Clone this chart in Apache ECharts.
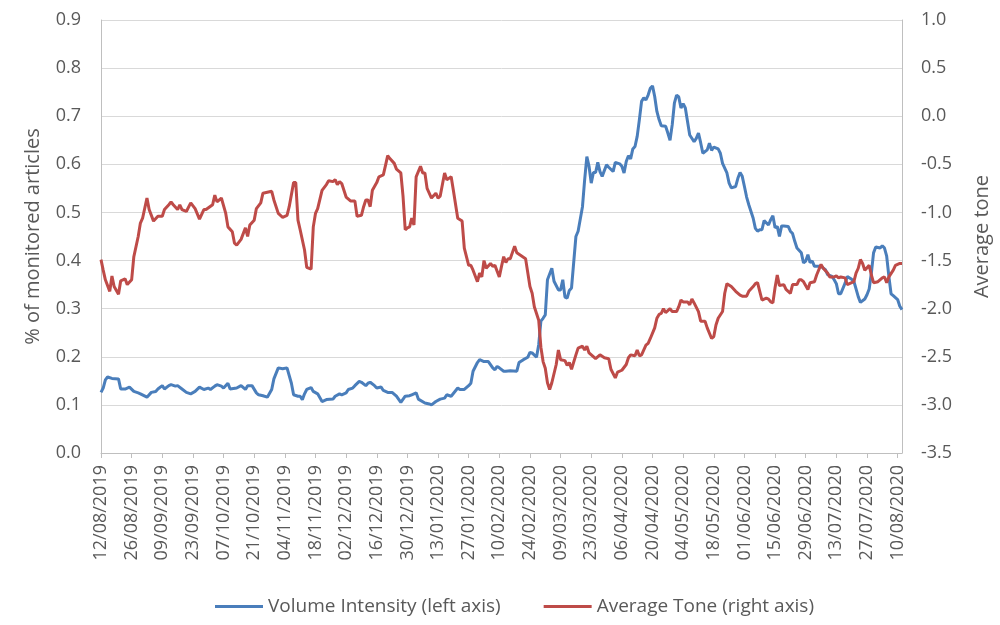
<!DOCTYPE html>
<html>
<head>
<meta charset="utf-8">
<script src="https://cdn.jsdelivr.net/npm/echarts@6/dist/echarts.min.js"></script>
<style>
  html, body { margin: 0; padding: 0; background: #fff; }
  #chart { width: 1000px; height: 625px; }
</style>
</head>
<body>
<div id="chart"></div>
<script>
// day index counted from 12/08/2019, one category per day
var startDate = Date.UTC(2019, 7, 12);
var dayCount = 367;

// Volume Intensity (left axis)
var volDays = [0,1,2,3,5,8,9,11,13,15,17,18,21,23,25,26,28,29,31,32,34,35,37,39,41,43,45,47,49,50,52,53,55,56,58,59,62,
  64,66,67,69,71,72,74,76,78,79,81,83,85,87,88,90,91,92,93,94,96,97,99,101,103,106,107,109,110,112,113,115,116,118,119,121,122,
  123,125,126,128,129,131,133,135,137,139,141,142,144,145,148,150,151,153,155,157,158,160,163,164,166,168,169,170,172,173,175,177,179,180,181,182,184,185,
  187,190,191,193,195,196,197,199,200,201,202,203,204,206,207,209,210,211,212,213,214,215,217,218,220,221,222,223,224,225,226,227,228,229,231,232,234,235,237,238,239,240,241,242,243,244,245,246,247,248,
  249,250,251,252,253,254,255,256,258,259,260,261,262,263,264,265,266,267,269,271,272,273,274,275,277,278,279,280,282,283,284,286,287,288,290,291,292,293,294,295,296,298,299,300,301,302,303,305,306,307,308,309,
  310,311,312,314,315,316,317,318,320,321,322,323,324,325,326,327,329,331,332,334,335,336,337,338,340,341,343,344,345,346,347,349,350,351,352,353,354,356,357,358,359,360,361,362,364,365,366];
var volValues = [0.126,0.135,0.152,0.158,0.155,0.154,0.133,0.133,0.137,0.128,0.125,0.123,0.116,0.126,0.128,0.133,0.140,0.133,0.140,0.142,0.139,0.140,0.133,0.126,0.123,0.128,0.137,0.132,0.135,0.132,0.139,0.142,0.139,0.135,0.145,0.133,0.135,
  0.140,0.132,0.140,0.140,0.125,0.121,0.119,0.116,0.132,0.154,0.177,0.175,0.177,0.145,0.121,0.118,0.118,0.111,0.123,0.132,0.136,0.128,0.123,0.107,0.111,0.112,0.118,0.123,0.121,0.125,0.132,0.135,0.140,0.149,0.147,0.140,0.145,
  0.147,0.140,0.135,0.137,0.130,0.126,0.126,0.118,0.105,0.118,0.119,0.121,0.125,0.112,0.104,0.102,0.100,0.107,0.112,0.114,0.121,0.118,0.135,0.132,0.132,0.140,0.145,0.170,0.188,0.194,0.190,0.190,0.177,0.173,0.180,0.177,0.170,0.170,
  0.171,0.170,0.188,0.194,0.199,0.209,0.208,0.199,0.225,0.274,0.280,0.287,0.360,0.384,0.357,0.339,0.339,0.360,0.324,0.322,0.338,0.343,0.450,0.461,0.512,0.568,0.616,0.596,0.561,0.583,0.583,0.604,0.585,0.575,0.599,0.594,0.585,0.604,0.601,0.596,0.582,0.606,0.618,0.611,0.632,0.637,0.658,0.693,0.731,0.738,
  0.734,0.744,0.758,0.763,0.741,0.710,0.693,0.680,0.679,0.665,0.650,0.682,0.727,0.744,0.740,0.717,0.726,0.717,0.661,0.647,0.654,0.665,0.645,0.623,0.630,0.644,0.629,0.636,0.632,0.623,0.602,0.582,0.561,0.551,0.554,0.571,0.583,0.575,0.554,0.532,0.516,0.488,0.467,0.461,0.464,0.464,0.483,0.474,0.485,0.493,0.468,0.471,
  0.450,0.472,0.472,0.471,0.461,0.456,0.440,0.426,0.416,0.395,0.399,0.412,0.396,0.399,0.388,0.388,0.388,0.381,0.371,0.367,0.360,0.352,0.331,0.331,0.353,0.367,0.361,0.357,0.341,0.325,0.313,0.320,0.329,0.341,0.374,0.416,0.428,0.426,0.431,0.426,0.409,0.367,0.331,0.327,0.319,0.305,0.298];

// Average Tone (right axis)
var toneDays = [0,1,2,4,5,6,8,9,11,12,14,15,17,18,19,21,22,24,26,28,29,31,32,33,35,36,37,39,41,43,45,47,48,51,52,53,55,57,58,60,61,62,
  64,66,67,68,70,71,73,74,76,78,79,81,83,85,86,88,89,90,91,93,94,96,97,98,99,101,103,104,106,107,108,109,110,112,114,116,117,119,120,121,122,
  123,124,126,127,129,130,131,132,134,135,137,138,139,140,141,142,143,144,146,147,148,149,151,153,154,155,157,158,160,161,163,165,166,168,169,170,172,173,174,175,176,178,179,180,
  182,183,184,185,186,187,189,190,192,194,196,197,198,200,201,202,203,204,205,206,208,209,210,212,213,214,215,217,218,220,221,222,223,226,228,230,232,233,235,236,238,240,241,242,244,245,246,
  247,249,250,251,253,254,255,256,257,258,260,261,263,264,265,266,268,269,270,271,273,274,276,277,279,280,281,282,284,285,286,288,290,292,293,295,296,298,299,300,301,302,304,
  305,306,307,308,309,310,312,313,315,316,318,319,320,321,323,324,326,327,329,330,332,333,335,336,337,338,340,341,343,344,345,346,347,348,349,351,352,353,355,357,358,359,360,362,363,365,366];
var toneValues = [-1.49,-1.60,-1.70,-1.82,-1.66,-1.77,-1.85,-1.71,-1.69,-1.75,-1.70,-1.46,-1.25,-1.11,-1.06,-0.85,-0.97,-1.09,-1.04,-1.04,-0.97,-0.92,-0.89,-0.92,-0.97,-0.92,-0.97,-0.99,-0.90,-0.96,-1.07,-0.97,-0.97,-0.92,-0.82,-0.89,-0.85,-1.01,-1.15,-1.20,-1.32,-1.34,
  -1.28,-1.16,-1.25,-1.13,-1.08,-0.96,-0.90,-0.80,-0.79,-0.78,-0.87,-1.01,-1.05,-1.03,-0.94,-0.69,-0.69,-1.08,-1.18,-1.39,-1.57,-1.59,-1.15,-1.01,-0.96,-0.77,-0.71,-0.67,-0.68,-0.66,-0.71,-0.68,-0.70,-0.84,-0.88,-0.88,-1.04,-1.03,-0.94,-0.87,-0.87,
  -0.94,-0.77,-0.69,-0.63,-0.61,-0.51,-0.41,-0.44,-0.49,-0.55,-0.59,-0.83,-1.18,-1.16,-1.15,-1.06,-1.13,-0.63,-0.52,-0.59,-0.59,-0.75,-0.85,-0.80,-0.85,-0.83,-0.59,-0.66,-0.63,-0.77,-1.06,-1.09,-1.37,-1.55,-1.55,-1.60,-1.72,-1.63,-1.67,-1.50,-1.58,-1.53,-1.56,-1.55,
  -1.67,-1.56,-1.46,-1.52,-1.48,-1.48,-1.35,-1.42,-1.45,-1.48,-1.77,-1.84,-1.98,-2.12,-2.40,-2.55,-2.62,-2.77,-2.84,-2.77,-2.58,-2.43,-2.53,-2.54,-2.59,-2.56,-2.63,-2.48,-2.41,-2.39,-2.43,-2.39,-2.46,-2.52,-2.48,-2.51,-2.52,-2.63,-2.72,-2.66,-2.64,-2.58,-2.51,-2.48,-2.49,-2.43,-2.49,
  -2.48,-2.38,-2.36,-2.31,-2.20,-2.10,-2.06,-2.05,-2.00,-2.04,-2.00,-2.03,-2.03,-1.98,-1.91,-1.93,-1.93,-1.96,-1.90,-1.94,-2.03,-2.13,-2.13,-2.20,-2.31,-2.29,-2.17,-2.10,-2.03,-1.84,-1.74,-1.77,-1.82,-1.86,-1.87,-1.87,-1.82,-1.77,-1.74,-1.73,-1.82,-1.91,-1.89,
  -1.90,-1.93,-1.94,-1.78,-1.65,-1.76,-1.75,-1.80,-1.84,-1.75,-1.75,-1.70,-1.70,-1.72,-1.80,-1.73,-1.72,-1.65,-1.54,-1.58,-1.63,-1.67,-1.67,-1.66,-1.68,-1.67,-1.68,-1.75,-1.73,-1.72,-1.63,-1.58,-1.49,-1.53,-1.60,-1.55,-1.65,-1.73,-1.72,-1.68,-1.67,-1.73,-1.67,-1.60,-1.55,-1.53,-1.53];

function pad(n){
  return n < 10 ? '0' + n : '' + n;
}

var dates = [];
for (var i = 0; i < dayCount; i++) {
  var d = new Date(startDate + i * 86400000);
  dates.push(pad(d.getUTCDate()) + '/' + pad(d.getUTCMonth() + 1) + '/' + d.getUTCFullYear());
}

function pairs(days, values){
  var out = [];
  for (var k = 0; k < days.length; k++) {
    out.push([days[k], values[k]]);
  }
  return out;
}

var textColor = '#595959';
var font = 'Open Sans';

var chart = echarts.init(document.getElementById('chart'), null, {renderer: 'canvas'});

var option = {
  animation: false,
  textStyle: { fontFamily: font },
  grid: { left: 101, right: 96, top: 20, bottom: 172, containLabel: false },
  legend: {
    bottom: 4,
    left: 210,
    itemGap: 43,
    itemWidth: 48,
    itemHeight: 3,
    icon: 'rect',
    textStyle: { color: textColor, fontSize: 19, fontFamily: font },
    data: ['Volume Intensity (left axis)', 'Average Tone (right axis)']
  },
  xAxis: {
    type: 'category',
    data: dates,
    boundaryGap: false,
    axisLine: { lineStyle: { color: '#BFBFBF', width: 1 } },
    axisTick: { show: true, interval: 13, length: 5, lineStyle: { color: '#BFBFBF' } },
    axisLabel: {
      interval: 13,
      rotate: 90,
      margin: 12,
      color: textColor,
      fontSize: 18,
      fontFamily: font
    },
    splitLine: { show: false }
  },
  yAxis: [
    {
      type: 'value',
      min: 0,
      max: 0.9,
      interval: 0.1,
      name: '% of monitored articles',
      nameLocation: 'middle',
      nameGap: 58,
      nameTextStyle: { color: textColor, fontSize: 20, fontFamily: font },
      axisLine: { show: true, lineStyle: { color: '#BFBFBF' } },
      axisTick: { show: false },
      axisLabel: {
        color: textColor, fontSize: 18, margin: 20, fontFamily: font,
        formatter: function(v){ return v.toFixed(1); }
      },
      splitLine: { show: true, lineStyle: { color: '#D9D9D9', width: 1 } }
    },
    {
      type: 'value',
      min: -3.5,
      max: 1.0,
      interval: 0.5,
      name: 'Average tone',
      nameLocation: 'middle',
      nameGap: 70,
      nameTextStyle: { color: textColor, fontSize: 20, fontFamily: font },
      axisLine: { show: true, lineStyle: { color: '#BFBFBF' } },
      axisTick: { show: false },
      axisLabel: {
        color: textColor, fontSize: 18, margin: 19, fontFamily: font,
        formatter: function(v){ return v.toFixed(1); }
      },
      splitLine: { show: false }
    }
  ],
  series: [
    {
      name: 'Volume Intensity (left axis)',
      type: 'line',
      yAxisIndex: 0,
      data: pairs(volDays, volValues),
      showSymbol: false,
      symbol: 'none',
      smooth: false,
      color: '#4A7EBB',
      lineStyle: { color: '#4A7EBB', width: 3 }
    },
    {
      name: 'Average Tone (right axis)',
      type: 'line',
      yAxisIndex: 1,
      data: pairs(toneDays, toneValues),
      showSymbol: false,
      symbol: 'none',
      smooth: false,
      color: '#BE4B48',
      lineStyle: { color: '#BE4B48', width: 3 }
    }
  ]
};

chart.setOption(option);
</script>
</body>
</html>
